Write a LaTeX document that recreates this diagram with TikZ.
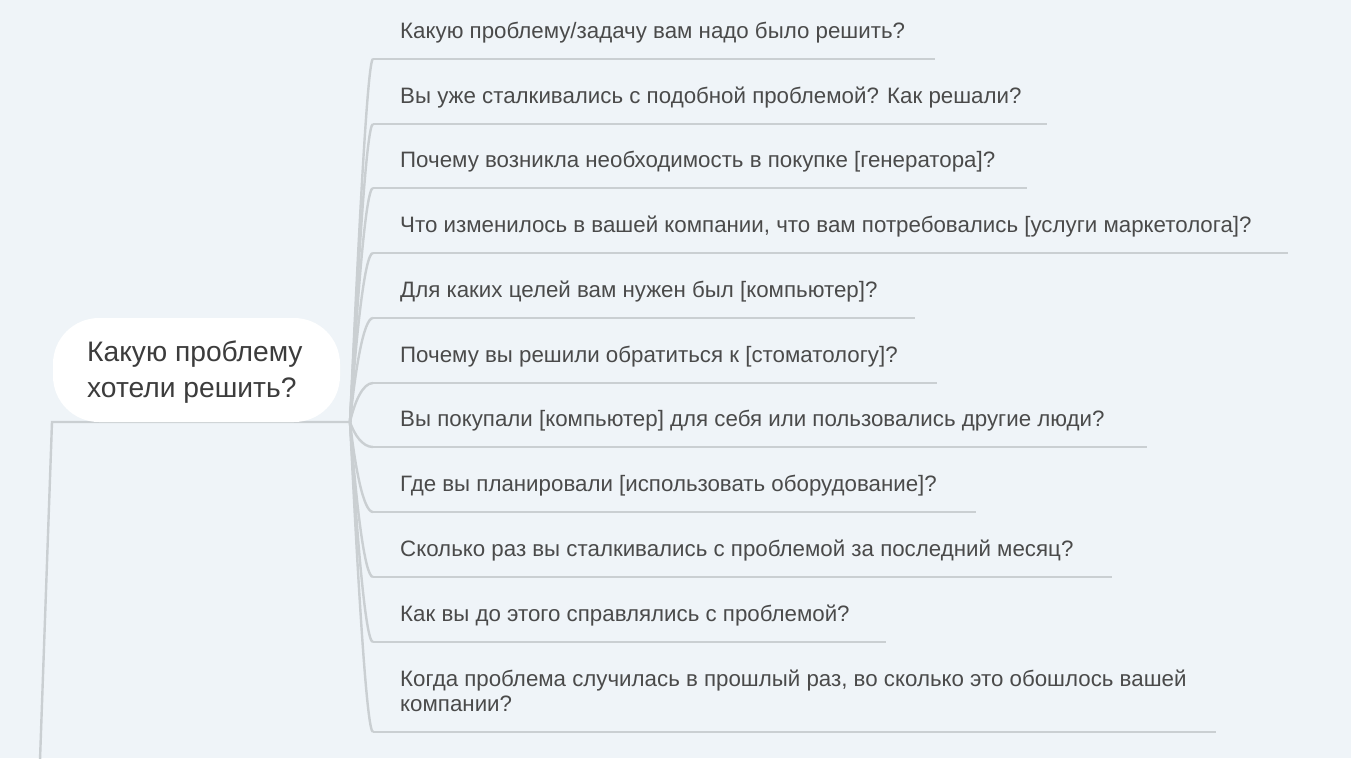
\documentclass[tikz,border=0pt]{standalone}
\usepackage{fontspec}
\setmainfont{Liberation Sans}
\definecolor{bg}{HTML}{EFF4F8}
\definecolor{ln}{HTML}{CACFD2}
\definecolor{tx}{HTML}{4A4A4A}
\definecolor{tx2}{HTML}{3C3C3C}
\tikzset{
  item/.style={anchor=base west, inner sep=0pt, text=tx, font=\fontsize{22.3}{25}\selectfont, align=left},
  uline/.style={draw=ln, line width=2.6pt},
  branch/.style={draw=ln, line width=2.4pt},
  mainbox/.style={fill=white, rounded corners=46pt, minimum width=287pt, minimum height=104pt, inner sep=0pt},
  maintext/.style={anchor=base west, inner sep=0pt, text=tx2, font=\fontsize{28.2}{36}\selectfont, align=left}
}
\begin{document}
\begin{tikzpicture}[x=1pt,y=-1pt]
\fill[bg] (0,0) rectangle (1351,758);
\useasboundingbox (0,0) rectangle (1351,758);
% parent connector
\coordinate (top) at (52,422);
\coordinate (bot) at (40,760);
\coordinate (root) at (350,422);
\draw[branch] (bot) -- (top) -- (root);
% central node
\node[mainbox] (main) at (196.5,370) {};
\node[maintext] (mtext) at (87,397) {Какую проблему\\хотели решить?};
% items
\node[item] (t1) at (400,38) {Какую проблему/задачу вам надо было решить?};
\node[item] (t2) at (400,103) {Вы уже сталкивались с подобной проблемой? Как решали?};
\node[item] (t3) at (400,167) {Почему возникла необходимость в покупке [генератора]?};
\node[item] (t4) at (400,232) {Что изменилось в вашей компании, что вам потребовались [услуги маркетолога]?};
\node[item] (t5) at (400,297) {Для каких целей вам нужен был [компьютер]?};
\node[item] (t6) at (400,362) {Почему вы решили обратиться к [стоматологу]?};
\node[item] (t7) at (400,426) {Вы покупали [компьютер] для себя или пользовались другие люди?};
\node[item] (t8) at (400,491) {Где вы планировали [использовать оборудование]?};
\node[item] (t9) at (400,556) {Сколько раз вы сталкивались с проблемой за последний месяц?};
\node[item] (t10) at (400,621) {Как вы до этого справлялись с проблемой?};
\node[item] (t11) at (400,711) {Когда проблема случилась в прошлый раз, во сколько это обошлось вашей\\компании?};
% underline end points
\foreach \n/\y/\xe in {1/59/935, 2/124/1047, 3/188/1027, 4/253/1288, 5/318/915, 6/383/937,
                       7/447/1147, 8/512/976, 9/577/1112, 10/642/886, 11/732/1216}{
  \coordinate (s\n) at (373,\y);
  \coordinate (e\n) at (\xe,\y);
}
\foreach \n/\y in {1/59, 2/124, 3/188, 4/253, 5/318, 6/383, 7/447, 8/512, 9/577, 10/642, 11/732}{
  \pgfmathsetmacro{\dy}{\y-422}
  \pgfmathsetmacro{\ady}{abs(\dy)}
  \pgfmathsetmacro{\ax}{354+0.012*\ady}
  \pgfmathsetmacro{\ay}{422+0.5*\dy}
  \pgfmathsetmacro{\bx}{362+0.015*\ady}
  \draw[branch] (root) .. controls (\ax,\ay) and (\bx,\y) .. (s\n);
  \draw[uline] (s\n) -- (e\n);
}
\end{tikzpicture}
\end{document}
